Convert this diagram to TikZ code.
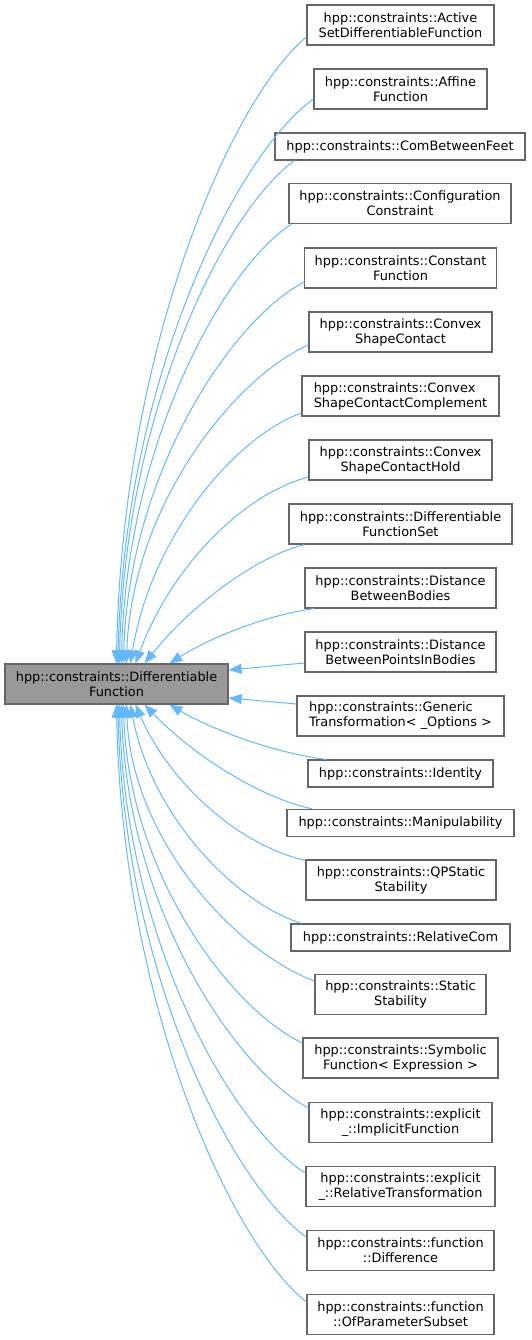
\documentclass[tikz,border=0pt]{standalone}
\usepackage{fontspec}
\setmainfont{DejaVu Sans}
\usetikzlibrary{arrows.meta,calc}
\definecolor{edgeblue}{HTML}{63B8FF}
\definecolor{boxborder}{HTML}{666666}
\definecolor{basefill}{HTML}{999999}
\tikzset{
 cls/.style={draw=boxborder, line width=1.2pt, fill=white, inner sep=0pt, align=center,
   font=\fontsize{12.9}{15}\selectfont, minimum height=40pt},
 onecls/.style={cls, minimum height=27pt},
 basecls/.style={cls, fill=basefill},
 inh/.style={draw=edgeblue, line width=1pt, -{Triangle[length=13pt,width=10pt]}}
}
\newcommand\inhedge[4]{%
 \draw[inh] let \p1=(#1), \p2=(#2) in (\p1) .. controls ({\x1-#3*(\x1-\x2)},{\y1+0.1*(\y2-\y1)}) and ({\x2+#4*(\x1-\x2)},{\y2-0.5*(\y2-\y1)}) .. (\p2);}
\begin{document}
\begin{tikzpicture}[x=1pt,y=-1pt]
\useasboundingbox (0,0) rectangle (531,1340);
\node[basecls, minimum width=223pt] (base) at (116.5,684) {hpp::constraints::Differentiable\\Function};

\node[cls, minimum width=187pt] (c1) at (400.5,25) {hpp::constraints::Active\\SetDifferentiableFunction};
\node[cls, minimum width=173pt] (c2) at (400.5,89) {hpp::constraints::Affine\\Function};
\node[onecls, minimum width=250pt] (c3) at (400,146.5) {hpp::constraints::ComBetweenFeet};
\node[cls, minimum width=222pt] (c4) at (400,203.5) {hpp::constraints::Configuration\\Constraint};
\node[cls, minimum width=192pt] (c5) at (400.5,268) {hpp::constraints::Constant\\Function};
\node[cls, minimum width=183pt] (c6) at (400.5,332) {hpp::constraints::Convex\\ShapeContact};
\node[cls, minimum width=197pt, align=left] (c7) at (400.5,396) {hpp::constraints::Convex\\ShapeContactComplement};
\node[cls, minimum width=183pt] (c8) at (400.5,460) {hpp::constraints::Convex\\ShapeContactHold};
\node[cls, minimum width=223pt] (c9) at (400.5,524) {hpp::constraints::Differentiable\\FunctionSet};
\node[cls, minimum width=191pt] (c10) at (400.5,588) {hpp::constraints::Distance\\BetweenBodies};
\node[cls, minimum width=191pt] (c11) at (400.5,652) {hpp::constraints::Distance\\BetweenPointsInBodies};
\node[cls, minimum width=207pt, align=left] (c12) at (400.5,716) {hpp::constraints::Generic\\Transformation< \_Options >};
\node[onecls, minimum width=185pt] (c13) at (400.5,773.5) {hpp::constraints::Identity};
\node[onecls, minimum width=227pt] (c14) at (400.5,823) {hpp::constraints::Manipulability};
\node[cls, minimum width=190pt] (c15) at (401,880) {hpp::constraints::QPStatic\\Stability};
\node[onecls, minimum width=219pt] (c16) at (400.5,937.5) {hpp::constraints::RelativeCom};
\node[cls, minimum width=171pt] (c17) at (400.5,994.5) {hpp::constraints::Static\\Stability};
\node[cls, minimum width=195pt] (c18) at (400.5,1058) {hpp::constraints::Symbolic\\Function< Expression >};
\node[cls, minimum width=183pt] (c19) at (400.5,1122.5) {hpp::constraints::explicit\\\_::ImplicitFunction};
\node[cls, minimum width=189pt] (c20) at (400.5,1186.5) {hpp::constraints::explicit\\\_::RelativeTransformation};
\node[cls, minimum width=187pt] (c21) at (400.5,1250.5) {hpp::constraints::function\\::Difference};
\node[cls, minimum width=187pt] (c22) at (400.5,1314.5) {hpp::constraints::function\\::OfParameterSubset};

% upper edges
\inhedge{$(c1.west)+(0,12)$}{$(base.north west)+(112,0)$}{0.4}{0.03}
\inhedge{$(c2.west)+(0,10)$}{$(base.north west)+(113.5,0)$}{0.4}{0.03}
\inhedge{$(c3.south west)+(20,0)$}{$(base.north west)+(115,0)$}{0.4}{0.03}
\inhedge{$(c4.south west)+(3,0)$}{$(base.north west)+(117,0)$}{0.4}{0.03}
\inhedge{$(c5.west)+(0,14)$}{$(base.north west)+(119,0)$}{0.4}{0.03}
\inhedge{$(c6.west)+(0,13)$}{$(base.north west)+(122,0)$}{0.4}{0.03}
\inhedge{$(c7.west)+(0,17)$}{$(base.north west)+(126,0)$}{0.4}{0.12}
\inhedge{$(c8.west)+(0,17)$}{$(base.north west)+(131,0)$}{0.4}{0.2}
\inhedge{$(c9.south west)+(16,0)$}{$(base.north west)+(140,0)$}{0.3}{0.3}
\inhedge{$(c10.south west)+(10,0)$}{$(base.north west)+(165,0)$}{0.3}{0.3}
% side edges
\draw[inh] ($(c11.west)+(0,11)$) -- ($(base.east)+(0,-14)$);
\draw[inh] ($(c12.west)+(0,-12)$) -- ($(base.east)+(0,14)$);
% lower edges
\inhedge{$(c13.north west)+(19,0)$}{$(base.south west)+(165,0)$}{0.3}{0.3}
\inhedge{$(c14.north west)+(26,0)$}{$(base.south west)+(140,0)$}{0.3}{0.3}
\inhedge{$(c15.north west)+(0,1)$}{$(base.south west)+(131,0)$}{0.4}{0.2}
\inhedge{$(c16.north west)+(11,0)$}{$(base.south west)+(126,0)$}{0.4}{0.12}
\inhedge{$(c17.west)+(0,-13.5)$}{$(base.south west)+(122,0)$}{0.4}{0.03}
\inhedge{$(c18.west)+(0,-15)$}{$(base.south west)+(119,0)$}{0.4}{0.03}
\inhedge{$(c19.west)+(0,-14.5)$}{$(base.south west)+(117,0)$}{0.4}{0.03}
\inhedge{$(c20.west)+(0,-13.5)$}{$(base.south west)+(115,0)$}{0.4}{0.03}
\inhedge{$(c21.west)+(0,-13.5)$}{$(base.south west)+(113.5,0)$}{0.4}{0.03}
\inhedge{$(c22.west)+(0,-12.5)$}{$(base.south west)+(112,0)$}{0.4}{0.03}
\end{tikzpicture}
\end{document}
